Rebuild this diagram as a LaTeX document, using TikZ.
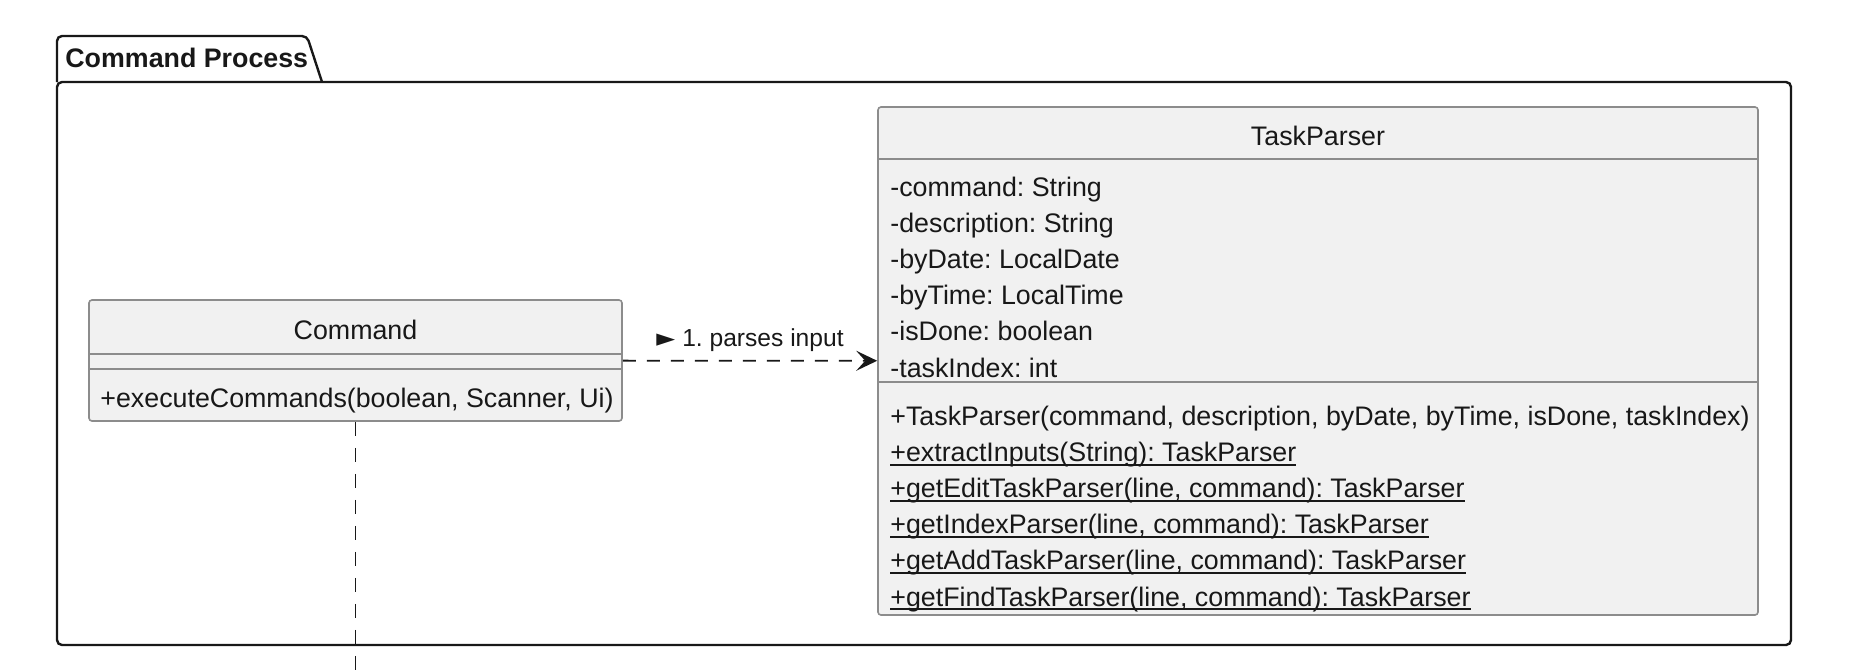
\documentclass[tikz,border=0pt]{standalone}
\usepackage{fontspec}
\setmainfont{Liberation Sans}
\newfontfamily\symfont{DejaVu Sans}
\usetikzlibrary{arrows.meta,positioning}
\definecolor{classfill}{HTML}{F1F1F1}
\definecolor{classedge}{HTML}{8C8C8C}
\definecolor{ink}{HTML}{181818}
\newcommand{\classfont}{\fontsize{13.4}{15}\selectfont}
\newcommand{\labelfont}{\fontsize{12.3}{14}\selectfont}
\newcommand{\staticop}[1]{\setbox0\hbox{#1}\rlap{\rule[-2pt]{\wd0}{0.8pt}}\box0}
\frenchspacing

\begin{document}
\begin{tikzpicture}[
  x=0.5pt, y=-0.5pt,
  pkgline/.style={ink, line width=1.2pt, rounded corners=2.5pt},
  classbox/.style={draw=classedge, fill=classfill, line width=0.8pt, rounded corners=1.5pt, inner sep=0pt},
  divider/.style={classedge, line width=0.8pt},
  classtitle/.style={font=\classfont, text=ink, inner sep=0pt, text height=13.6pt, text depth=4.05pt},
  member/.style={classtitle, anchor=west},
  linklabel/.style={font=\labelfont, text=ink, inner sep=0pt, text height=9.4pt, text depth=0.6pt},
  dep/.style={ink, line width=0.9pt, dash pattern=on 6.5pt off 5.5pt,
    -{Stealth[length=10.5pt, width=10pt, inset=4.5pt]}},
  trail/.style={ink, line width=0.85pt, dash pattern=on 7pt off 6pt}
]
  \useasboundingbox (0,0) rectangle (1858,670);

  % package frame with its tab
  \draw[pkgline] (57,82) rectangle (1791,645);
  \draw[pkgline] (57,82) -- (57,36) -- (307,36) -- (322,82);
  \node[anchor=west, font=\classfont\bfseries, text=ink, inner sep=0pt] (pkgtitle) at (65,58) {Command Process};

  % Command
  \node[classbox, minimum width=266.5pt, minimum height=60.5pt] (command) at (355.5,360.5) {};
  \node[classtitle] (commandname) at (355.5,330) {Command};
  \draw[divider] ([yshift=-27.5pt]command.north west) -- ([yshift=-27.5pt]command.north east);
  \draw[divider] ([yshift=-35pt]command.north west) -- ([yshift=-35pt]command.north east);
  \node[member] (execute) at (100,398) {+executeCommands(boolean, Scanner, Ui)};

  % TaskParser
  \node[classbox, minimum width=440pt, minimum height=254pt] (taskparser) at (1318,361) {};
  \node[classtitle] (parsername) at (1318,136) {TaskParser};
  \draw[divider] ([yshift=-26.5pt]taskparser.north west) -- ([yshift=-26.5pt]taskparser.north east);
  \draw[divider] ([yshift=-138pt]taskparser.north west) -- ([yshift=-138pt]taskparser.north east);

  \node[member] (fcommand) at (890,187) {-command: String};
  \node[member, anchor=north west] (fdescription) at (fcommand.south west) {-description: String};
  \node[member, anchor=north west] (fbydate) at (fdescription.south west) {-byDate: LocalDate};
  \node[member, anchor=north west] (fbytime) at (fbydate.south west) {-byTime: LocalTime};
  \node[member, anchor=north west] (fisdone) at (fbytime.south west) {-isDone: boolean};
  \node[member, anchor=north west] (ftaskindex) at (fisdone.south west) {-taskIndex: int};

  \node[member] (mctor) at (890,416) {+TaskParser(command, description, byDate, byTime, isDone, taskIndex)};
  \node[member, anchor=north west] (mextract) at (mctor.south west) {\staticop{+extractInputs(String): TaskParser}};
  \node[member, anchor=north west] (medit) at (mextract.south west) {\staticop{+getEditTaskParser(line, command): TaskParser}};
  \node[member, anchor=north west] (mindex) at (medit.south west) {\staticop{+getIndexParser(line, command): TaskParser}};
  \node[member, anchor=north west] (madd) at (mindex.south west) {\staticop{+getAddTaskParser(line, command): TaskParser}};
  \node[member, anchor=north west] (mfind) at (madd.south west) {\staticop{+getFindTaskParser(line, command): TaskParser}};

  % links
  \draw[dep] (command) -- node[linklabel, yshift=11.5pt] (parseslabel) {{\symfont ►}\hspace{3.5pt}1. parses input} (taskparser);

  \coordinate (cmdbottom) at (355.5,670);
  \draw[trail] (command) -- (cmdbottom);
\end{tikzpicture}
\end{document}
